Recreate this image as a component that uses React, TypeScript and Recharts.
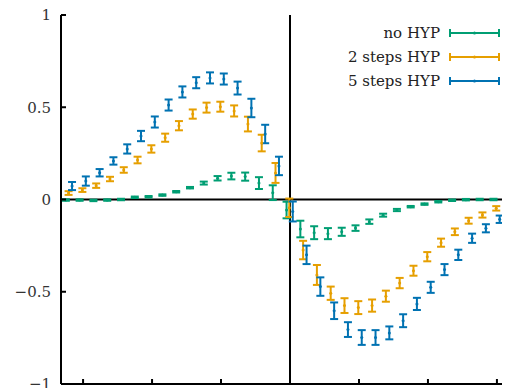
import { ScatterChart, Scatter, XAxis, YAxis, ErrorBar, ReferenceLine, Legend } from 'recharts'

// sample positions along the horizontal axis
const xs = [
  -1.6, -1.5, -1.4, -1.3, -1.2, -1.1, -1.0, -0.9, -0.8, -0.7, -0.6, -0.5, -0.4, -0.3, -0.2, -0.1,
  0, 0.1, 0.2, 0.3, 0.4, 0.5, 0.6, 0.7, 0.8, 0.9, 1.0, 1.1, 1.2, 1.3, 1.4, 1.5, 1.6,
]

const noHyp = [
  -0.003, -0.003, -0.005, -0.003, 0.0, 0.012, 0.015, 0.024, 0.042, 0.064, 0.089, 0.115, 0.127, 0.124, 0.089, 0.037,
  -0.057, -0.16, -0.18, -0.185, -0.175, -0.155, -0.12, -0.085, -0.057, -0.039, -0.025, -0.012, -0.004, -0.001, 0, 0, 0,
]
const noHypErr = [
  0.004, 0.004, 0.004, 0.004, 0.004, 0.004, 0.004, 0.004, 0.004, 0.004, 0.008, 0.012, 0.018, 0.022, 0.032, 0.04,
  0.045, 0.045, 0.035, 0.03, 0.022, 0.015, 0.012, 0.008, 0.006, 0.004, 0.004, 0.004, 0.004, 0.004, 0.004, 0.004, 0.004,
]

const twoSteps = [
  0.035, 0.051, 0.075, 0.111, 0.16, 0.214, 0.274, 0.335, 0.4, 0.463, 0.498, 0.503, 0.48, 0.409, 0.306, 0.144,
  -0.045, -0.274, -0.409, -0.508, -0.575, -0.586, -0.575, -0.524, -0.453, -0.386, -0.31, -0.234, -0.175, -0.115, -0.084, -0.048, -0.02,
]
const twoStepsErr = [
  0.01, 0.01, 0.012, 0.012, 0.015, 0.018, 0.02, 0.022, 0.025, 0.025, 0.027, 0.027, 0.03, 0.04, 0.045, 0.054,
  0.05, 0.05, 0.054, 0.036, 0.04, 0.035, 0.033, 0.03, 0.028, 0.027, 0.025, 0.022, 0.018, 0.016, 0.014, 0.012, 0.01,
]

const fiveSteps = [
  0.073, 0.1, 0.145, 0.209, 0.274, 0.344, 0.42, 0.512, 0.583, 0.633, 0.659, 0.653, 0.604, 0.496, 0.355, 0.182,
  -0.065, -0.3, -0.472, -0.603, -0.705, -0.748, -0.748, -0.723, -0.657, -0.566, -0.476, -0.38, -0.3, -0.21, -0.156, -0.107, -0.07,
]
const fiveStepsErr = [
  0.022, 0.025, 0.02, 0.02, 0.025, 0.028, 0.03, 0.03, 0.03, 0.03, 0.03, 0.03, 0.035, 0.05, 0.05, 0.05,
  0.054, 0.05, 0.05, 0.045, 0.04, 0.04, 0.04, 0.035, 0.035, 0.033, 0.03, 0.03, 0.028, 0.025, 0.022, 0.02, 0.018,
]

const yTicks = [-1, -0.5, 0, 0.5, 1]
const xTicks = [-1.5, -1, -0.5, 0, 0.5, 1, 1.5]
const xDomain = [-1.66, 1.66]
const yDomain = [-1, 1]

// "no HYP" hangs off the top x axis (same domain as the bottom one) so it gets a scale too
const series = [
  { name: 'no HYP', color: '#009E73', shift: -0.025, ys: noHyp, err: noHypErr, xId: 'top' },
  { name: '2 steps HYP', color: '#E69F00', shift: -0.005, ys: twoSteps, err: twoStepsErr, xId: 'x' },
  { name: '5 steps HYP', color: '#0072B2', shift: 0.02, ys: fiveSteps, err: fiveStepsErr, xId: 'x' },
]

const font = 'DejaVu Serif'
const LABEL_GAP = 10
const TICK_LEN = 5

const fmt = (v: number) => (v < 0 ? '\u2212' + Math.abs(v) : String(v))
const blank = () => ''

const frame = { stroke: '#000', strokeWidth: 2 }

// value label on the left plus a short tick pointing into the plot
function LeftTick({ x, y, payload }: any) {
  const ax = x + LABEL_GAP
  return (
    <g>
      <text x={x} y={y} dy="0.355em" textAnchor="end" fontFamily={font} fontSize={15} fill="#333">
        {fmt(payload.value)}
      </text>
      <line x1={ax} y1={y} x2={ax + TICK_LEN} y2={y} stroke="#000" strokeWidth={2} />
    </g>
  )
}

// inward tick hanging from the top frame line
function TopTick({ x, y }: any) {
  return <line x1={x} y1={y} x2={x} y2={y + TICK_LEN} stroke="#000" strokeWidth={2} />
}

// legend rows in series order, each with an error-bar sample
function KeyRows() {
  return (
    <div style={{ fontFamily: font, fontSize: 15, color: '#222' }}>
      {series.map((s) => (
        <div key={s.name} style={{ display: 'flex', alignItems: 'center', height: 24 }}>
          <span style={{ width: 115, textAlign: 'right', whiteSpace: 'nowrap' }}>{s.name}</span>
          <svg width={54} height={12} style={{ marginLeft: 8 }}>
            <line x1={2} y1={6} x2={51} y2={6} stroke={s.color} strokeWidth={2} />
            <line x1={2} y1={2} x2={2} y2={10} stroke={s.color} strokeWidth={2} />
            <line x1={51} y1={2} x2={51} y2={10} stroke={s.color} strokeWidth={2} />
            <circle cx={26.5} cy={6} r={1.5} fill={s.color} />
          </svg>
        </div>
      ))}
    </div>
  )
}

export default function App() {
  return (
    <div style={{ width: 502, height: 380, overflow: 'hidden' }}>
      <ScatterChart width={521} height={386} margin={{ top: 7, right: 10, bottom: 10, left: 8 }}>
        <XAxis
          xAxisId="x"
          type="number"
          dataKey="x"
          domain={xDomain}
          allowDataOverflow
          ticks={xTicks}
          mirror
          tickFormatter={blank}
          tickSize={TICK_LEN}
          tickLine={frame}
          axisLine={frame}
        />
        <XAxis
          xAxisId="top"
          type="number"
          dataKey="x"
          orientation="top"
          height={0}
          domain={xDomain}
          allowDataOverflow
          ticks={xTicks}
          interval={0}
          tickSize={0}
          tickMargin={0}
          tickLine={false}
          tick={<TopTick />}
          axisLine={frame}
        />
        <YAxis
          yAxisId="y"
          type="number"
          dataKey="y"
          domain={yDomain}
          allowDataOverflow
          ticks={yTicks}
          interval={0}
          width={45}
          tickLine={false}
          tickSize={0}
          tickMargin={LABEL_GAP}
          tick={<LeftTick />}
          axisLine={frame}
        />
        <ReferenceLine xAxisId="x" yAxisId="y" y={0} stroke="#000" strokeWidth={2} />
        <ReferenceLine xAxisId="x" yAxisId="y" x={0} stroke="#000" strokeWidth={2} />
        <Legend
          layout="vertical"
          align="center"
          verticalAlign="middle"
          wrapperStyle={{ top: 13, left: 317, width: 180 }}
          content={<KeyRows />}
        />
        {series.map((s) => (
          <Scatter
            key={s.name}
            name={s.name}
            xAxisId={s.xId}
            yAxisId="y"
            data={xs.map((x, i) => ({ x: x + s.shift, y: s.ys[i], e: s.err[i] }))}
            fill={s.color}
            isAnimationActive={false}
            shape={(p: any) => <circle cx={p.cx} cy={p.cy} r={1.5} fill={s.color} />}
          >
            <ErrorBar dataKey="e" direction="y" width={4} stroke={s.color} strokeWidth={2} />
          </Scatter>
        ))}
      </ScatterChart>
    </div>
  )
}
